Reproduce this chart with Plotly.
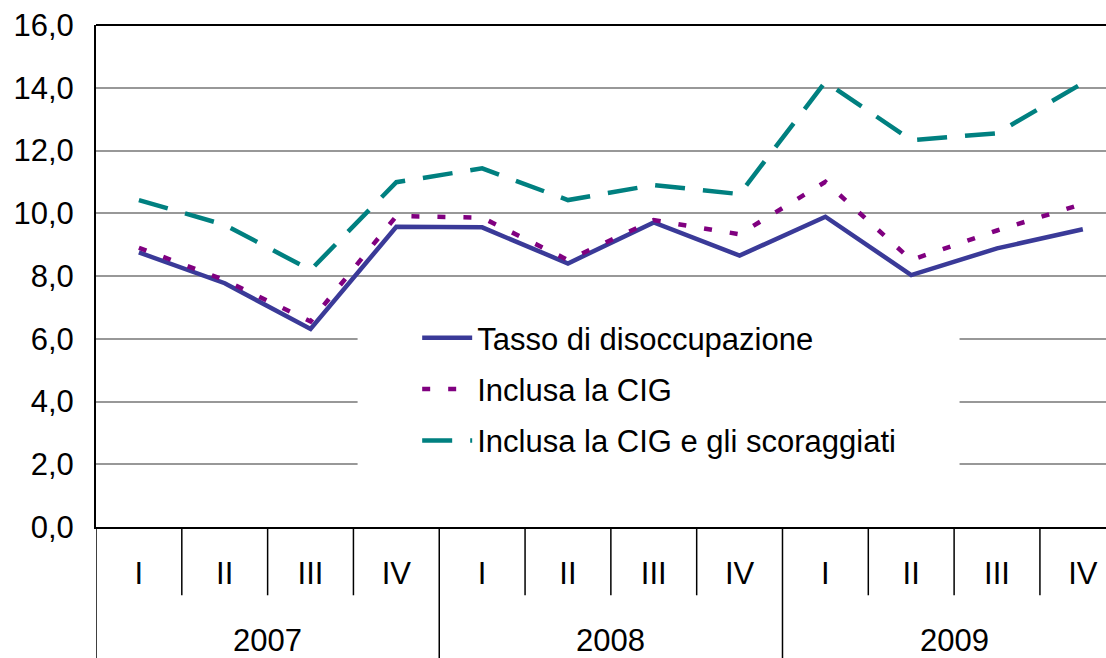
import plotly.graph_objects as go

quarters = ["I", "II", "III", "IV"] * 3
years = ["2007", "2008", "2009"]
tasso = [8.75, 7.77, 6.31, 9.57, 9.55, 8.40, 9.71, 8.65, 9.89, 8.03, 8.88, 9.49]
cig = [8.90, 7.87, 6.55, 9.91, 9.86, 8.51, 9.78, 9.33, 11.00, 8.51, 9.45, 10.30]
scoraggiati = [10.42, 9.63, 8.19, 10.99, 11.43, 10.42, 10.90, 10.61, 14.19, 12.33, 12.55, 14.15]
yticks = [0, 2, 4, 6, 8, 10, 12, 14, 16]

x = list(range(len(quarters)))
FONT = "Liberation Sans, Arial, sans-serif"
FS = 31

fig = go.Figure()
fig.add_trace(go.Scatter(x=x, y=tasso, mode="lines", name="Tasso di disoccupazione",
                         line=dict(color="#3A3A98", width=4.5), legendgroup="a"))
fig.add_trace(go.Scatter(x=x, y=cig, mode="lines", name="Inclusa la CIG",
                         line=dict(color="#800080", width=4.5, dash="8px,18px"), legendgroup="b"))
fig.add_trace(go.Scatter(x=x, y=scoraggiati, mode="lines", name="Inclusa la CIG e gli scoraggiati",
                         line=dict(color="#008080", width=4.5, dash="30px,18px"), legendgroup="c"))

shapes = []
# white box behind legend (interrupts gridlines)
shapes.append(dict(type="rect", xref="paper", yref="paper", x0=0.259, x1=0.855, y0=0.07, y1=0.39,
                   fillcolor="white", line=dict(width=0), layer="above"))
# top border
shapes.append(dict(type="line", xref="paper", yref="paper", x0=0, x1=1, y0=1, y1=1,
                   line=dict(color="black", width=2)))
# category separators
n = len(quarters)
for i in range(0, n):
    is_year = (i % 4 == 0)
    shapes.append(dict(type="line", xref="x", yref="paper", x0=i - 0.5, x1=i - 0.5,
                       y0=0, y1=-0.30 if is_year else -0.136,
                       line=dict(color="black", width=1.5)))

annotations = []
for k, yr in enumerate(years):
    annotations.append(dict(x=k * 4 + 1.5, y=-0.226, xref="x", yref="paper", text=yr,
                            showarrow=False, yanchor="middle", xanchor="center",
                            font=dict(size=FS, family=FONT, color="black")))

fig.update_layout(
    width=1106, height=658,
    margin=dict(l=96, r=0, t=25, b=131, autoexpand=False),
    paper_bgcolor="white", plot_bgcolor="white",
    separators=",.",
    font=dict(family=FONT, size=FS, color="black"),
    showlegend=True,
    legend=dict(x=0.318, y=0.43, xanchor="left", yanchor="top", bgcolor="rgba(0,0,0,0)",
                font=dict(size=FS, family=FONT, color="black"), tracegroupgap=8,
                itemwidth=50),
    xaxis=dict(range=[-0.5, 11.27], tickvals=x, ticktext=quarters, showgrid=False,
               showline=True, linecolor="black", linewidth=2, ticks="", zeroline=False,
               automargin=False,
               ticklabelstandoff=18, tickfont=dict(size=FS, family=FONT, color="black")),
    yaxis=dict(range=[0, 16], tickvals=yticks, tickformat=".1f", showgrid=True,
               gridcolor="#989898", gridwidth=1.5, showline=True, linecolor="black",
               linewidth=2, ticks="", zeroline=False, ticklabelstandoff=14,
               automargin=False,
               tickfont=dict(size=FS, family=FONT, color="black")),
    shapes=shapes, annotations=annotations,
)

fig.write_html("out.html", config={"displayModeBar": False},
               post_script="document.body.style.margin='0';document.body.style.overflow='hidden';")
